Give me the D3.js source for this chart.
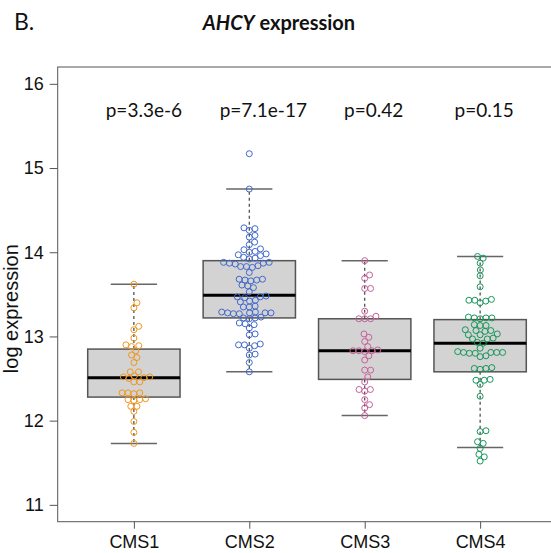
<!DOCTYPE html>
<html><head><meta charset="utf-8">
<script src="https://cdn.jsdelivr.net/npm/d3@7"></script>
<style>html,body{margin:0;padding:0;background:#fff;}svg{display:block;}</style>
</head><body>
<script>
const categories = ["CMS1","CMS2","CMS3","CMS4"];
const colors = ["#F0971F","#4169CC","#C8609A","#16975A"];
const pLabels = ["p=3.3e-6","p=7.1e-17","p=0.42","p=0.15"];
const yTicks = [11,12,13,14,15,16];

const cms1 = [13.62,13.40,13.34,13.12,13.08,12.98,12.90,12.89,12.88,12.83,12.78,12.75,12.69,12.58,12.58,12.53,12.52,12.52,12.51,12.50,12.46,12.46,12.33,12.33,12.32,12.33,12.25,12.25,12.26,12.24,12.17,12.17,12.11,11.99,11.86,11.73];
const cms2 = [15.17,14.75,14.29,14.28,14.26,14.20,14.18,14.12,14.09,14.04,14.03,14.00,14.01,13.97,13.98,13.96,13.93,13.94,13.92,13.87,13.88,13.86,13.87,13.88,13.83,13.84,13.82,13.83,13.76,13.67,13.68,13.66,13.67,13.68,13.60,13.61,13.58,13.53,13.47,13.48,13.46,13.47,13.42,13.43,13.41,13.35,13.36,13.35,13.28,13.29,13.28,13.27,13.28,13.29,13.28,13.27,13.22,13.23,13.22,13.21,13.15,13.16,13.14,13.10,13.02,13.03,12.90,12.91,12.90,12.89,12.86,12.78,12.79,12.69,12.58];
const cms3 = [13.90,13.73,13.69,13.57,13.57,13.30,13.24,13.21,13.21,13.21,13.03,12.99,12.94,12.88,12.83,12.83,12.84,12.82,12.83,12.77,12.72,12.60,12.60,12.52,12.46,12.37,12.37,12.35,12.25,12.19,12.15,12.06];
const cms4 = [13.95,13.93,13.87,13.79,13.72,13.59,13.43,13.44,13.42,13.43,13.40,13.22,13.23,13.21,13.22,13.22,13.13,13.14,13.13,13.07,13.08,13.07,13.06,13.02,13.03,13.02,12.97,12.98,12.97,12.92,12.93,12.86,12.81,12.81,12.80,12.81,12.82,12.81,12.80,12.77,12.76,12.62,12.63,12.62,12.61,12.48,12.49,12.48,12.43,12.29,11.88,11.87,11.75,11.73,11.67,11.60,11.57,11.52];
const seriesValues = [cms1, cms2, cms3, cms4];

const q1 = [12.28,13.22,12.49,12.58];
const medians = [12.51,13.49,12.83,12.92];
const q3 = [12.85,13.90,13.21,13.20];
const whiskerLow = [11.73,12.58,12.06,11.68];
const whiskerHigh = [13.62,14.75,13.90,13.95];

// layout: horizontal nudges of the p-value labels (px)
const pNudge = [10, 14, 9, 4];

const W = 551, H = 553;
const svg = d3.select("body").append("svg").attr("width", W).attr("height", H);

const x = d3.scaleLinear().domain([0.34, 4.66]).range([57.7, 556.3]);
const y = d3.scaleLinear().domain([10.8, 16.2]).range([521.7, 67]);
const unit = x(2) - x(1);
const axisFont = "Arial, 'Liberation Sans', sans-serif";
const textFont = "Lato, 'Open Sans', sans-serif";

// frame
svg.append("rect").attr("x", x(0.34)).attr("y", y(16.2))
  .attr("width", x(4.66) - x(0.34)).attr("height", y(10.8) - y(16.2))
  .attr("fill", "none").attr("stroke", "#555").attr("stroke-width", 1);

// y axis
const yAxis = svg.append("g").attr("transform", `translate(${x(0.34)},0)`)
  .call(d3.axisLeft(y).tickValues(yTicks).tickFormat(d3.format("d")).tickSize(8).tickPadding(6));
yAxis.attr("font-family", axisFont).attr("font-size", 18);
yAxis.select(".domain").remove();
yAxis.selectAll("line").attr("stroke", "#555");
yAxis.selectAll("text").attr("fill", "#111");

// x axis
const xAxis = svg.append("g").attr("transform", `translate(0,${y(10.8)})`)
  .call(d3.axisBottom(x).tickValues([1,2,3,4]).tickFormat((d,i) => categories[i]).tickSize(7).tickPadding(7));
xAxis.attr("font-family", axisFont).attr("font-size", 18);
xAxis.select(".domain").remove();
xAxis.selectAll("line").attr("stroke", "#555");
xAxis.selectAll("text").attr("fill", "#111");

// y label
svg.append("text").attr("transform", `translate(18,${y(13.33)}) rotate(-90)`)
  .attr("text-anchor", "middle").attr("font-family", axisFont).attr("font-size", 20)
  .attr("fill", "#111").text("log expression");

// title
const title = svg.append("text").attr("x", 279).attr("y", 30).attr("text-anchor", "middle")
  .attr("font-family", textFont).attr("font-size", 20).attr("font-weight", "bold").attr("fill", "#111");
title.append("tspan").attr("font-style", "italic").text("AHCY");
title.append("tspan").text(" expression");
svg.append("text").attr("x", 14).attr("y", 30).attr("font-family", textFont)
  .attr("font-size", 23).attr("fill", "#111").text("B.");

// boxes
const g = svg.append("g");
categories.forEach((c, i) => {
  const cx = x(i + 1);
  const bw = 0.8 * unit, cw = 0.4 * unit;
  g.append("line").attr("x1", cx).attr("x2", cx).attr("y1", y(q3[i])).attr("y2", y(whiskerHigh[i]))
    .attr("stroke", "#444").attr("stroke-width", 1.2).attr("stroke-dasharray", "3,3");
  g.append("line").attr("x1", cx).attr("x2", cx).attr("y1", y(q1[i])).attr("y2", y(whiskerLow[i]))
    .attr("stroke", "#444").attr("stroke-width", 1.2).attr("stroke-dasharray", "3,3");
  [whiskerHigh[i], whiskerLow[i]].forEach(v => {
    g.append("line").attr("x1", cx - cw/2).attr("x2", cx + cw/2).attr("y1", y(v)).attr("y2", y(v))
      .attr("stroke", "#666").attr("stroke-width", 1.5);
  });
  g.append("rect").attr("x", cx - bw/2).attr("y", y(q3[i])).attr("width", bw)
    .attr("height", y(q1[i]) - y(q3[i])).attr("fill", "#D3D3D3").attr("stroke", "#555").attr("stroke-width", 1.5);
  g.append("line").attr("x1", cx - bw/2).attr("x2", cx + bw/2).attr("y1", y(medians[i])).attr("y2", y(medians[i]))
    .attr("stroke", "#000").attr("stroke-width", 3);
});

// beeswarm
function swarm(values, d) {
  const idx = values.map((v, i) => i).sort((a, b) => values[a] - values[b]);
  const placed = [];
  const offs = new Array(values.length);
  idx.forEach(i => {
    const py = y(values[i]);
    const cands = [0];
    placed.forEach(p => {
      const dy = Math.abs(p.y - py);
      if (dy < d) {
        const dx = Math.sqrt(d*d - dy*dy);
        cands.push(p.x + dx, p.x - dx);
      }
    });
    cands.sort((a, b) => Math.abs(a) - Math.abs(b) || b - a);
    let chosen = 0;
    for (const cx of cands) {
      if (placed.every(p => (p.x - cx)**2 + (p.y - py)**2 >= d*d - 0.01)) { chosen = cx; break; }
    }
    placed.push({x: chosen, y: py});
    offs[i] = chosen;
  });
  return offs;
}

seriesValues.forEach((vals, i) => {
  const offs = swarm(vals, 5.9);
  svg.append("g").selectAll("circle").data(vals).join("circle")
    .attr("cx", (v, j) => x(i + 1) + offs[j]).attr("cy", v => y(v)).attr("r", 3)
    .attr("fill", "none").attr("stroke", colors[i]).attr("stroke-width", 1);
});

// p-values
categories.forEach((c, i) => {
  svg.append("text").attr("x", x(i + 1) + pNudge[i]).attr("y", 117).attr("text-anchor", "middle")
    .attr("font-family", textFont).attr("font-size", 19).attr("fill", "#111").text(pLabels[i]);
});
</script>
</body></html>
